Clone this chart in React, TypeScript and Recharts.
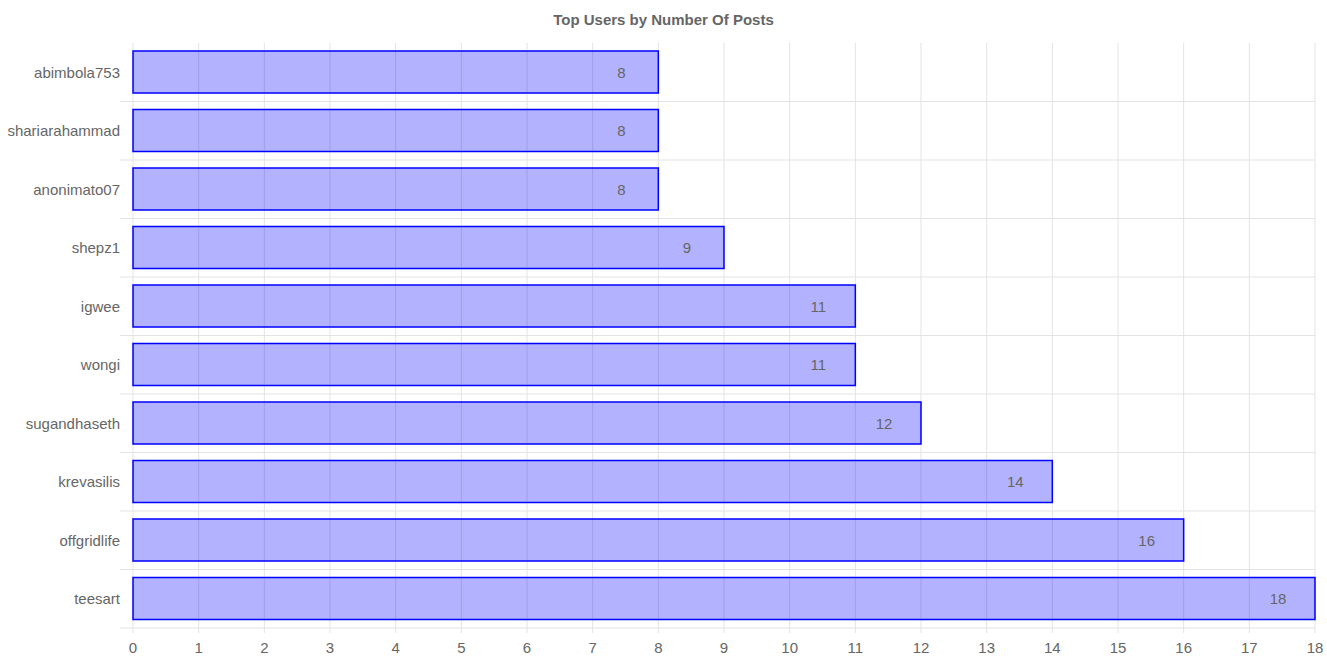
import React from 'react';
import { BarChart, Bar, XAxis, YAxis, CartesianGrid, LabelList } from 'recharts';

const users = [
  'abimbola753',
  'shariarahammad',
  'anonimato07',
  'shepz1',
  'igwee',
  'wongi',
  'sugandhaseth',
  'krevasilis',
  'offgridlife',
  'teesart',
];
const posts = [8, 8, 8, 9, 11, 11, 12, 14, 16, 18];
const xTicks = [0, 1, 2, 3, 4, 5, 6, 7, 8, 9, 10, 11, 12, 13, 14, 15, 16, 17, 18];

const data = users.map((name, i) => ({ name, posts: posts[i] }));

const FONT = '"Liberation Sans", Arial, Helvetica, sans-serif';
const GRID = '#e3e3e3';

const renderValue = (props: any) => {
  const { x, y, width, height, value } = props;
  return (
    <text
      x={x + width - 37}
      y={y + height / 2}
      textAnchor="middle"
      dominantBaseline="central"
      fill="#666"
      fontSize={15}
      fontFamily={FONT}
    >
      {value}
    </text>
  );
};

// horizontal lines sit between categories and run out past the axis as tick marks
const hLine = (props: any) => {
  const { x1, x2, y1, y2 } = props;
  return <line key={`h-${y1}`} x1={x1 - 13} x2={x2} y1={y1} y2={y2} stroke={GRID} strokeWidth={1} />;
};

export default function App() {
  return (
    <div style={{ position: 'absolute', left: 0, top: 0, width: 1327, height: 663, background: '#fff' }}>
      <div
        style={{
          position: 'absolute',
          top: 11,
          left: 0,
          width: 1327,
          textAlign: 'center',
          fontFamily: FONT,
          fontWeight: 'bold',
          fontSize: 15,
          color: '#666',
        }}
      >
        Top Users by Number Of Posts
      </div>
      <BarChart
        width={1327}
        height={663}
        data={data}
        layout="vertical"
        margin={{ top: 43, right: 12, left: 0, bottom: 0 }}
      >
        <CartesianGrid
          stroke={GRID}
          horizontal={hLine}
          horizontalCoordinatesGenerator={({ offset }: any) =>
            data.map((_, i) => offset.top + ((i + 1) * offset.height) / data.length)
          }
        />
        <XAxis
          type="number"
          domain={[0, 18]}
          ticks={xTicks}
          interval={0}
          height={35}
          axisLine={false}
          tickLine={{ stroke: GRID }}
          tickSize={5}
          tickMargin={9}
          tick={{ fill: '#666', fontSize: 15, fontFamily: FONT }}
        />
        <YAxis
          type="category"
          dataKey="name"
          width={133}
          axisLine={false}
          tickLine={false}
          tickSize={6}
          tickMargin={7}
          tick={{ fill: '#666', fontSize: 15, fontFamily: FONT }}
        />
        <Bar
          dataKey="posts"
          barSize={42}
          fill="rgba(0,0,255,0.3)"
          stroke="#0000ff"
          strokeWidth={1.5}
          isAnimationActive={false}
        >
          <LabelList dataKey="posts" content={renderValue} />
        </Bar>
      </BarChart>
    </div>
  );
}
